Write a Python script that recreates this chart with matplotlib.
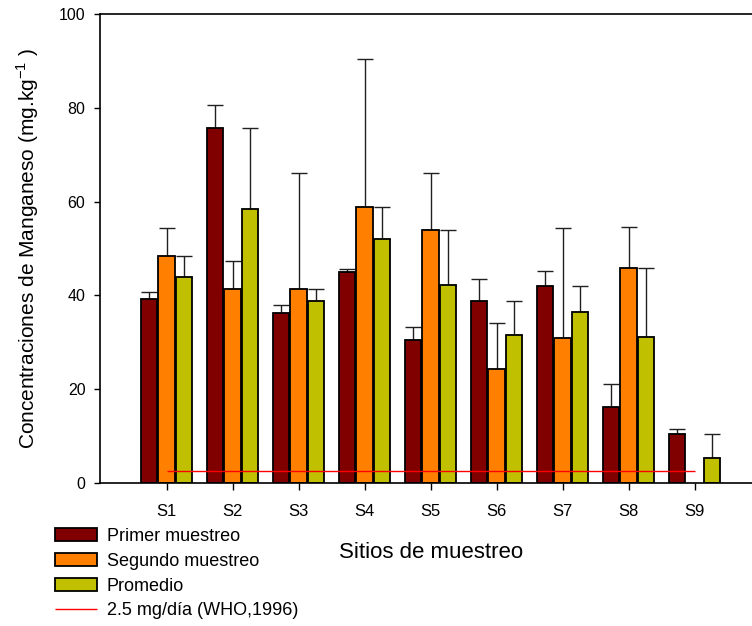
import matplotlib.pyplot as plt
import numpy as np

plt.rcParams['font.family'] = ['Liberation Sans', 'DejaVu Sans']
plt.rcParams['mathtext.fontset'] = 'custom'
plt.rcParams['mathtext.rm'] = 'Liberation Sans'

sitios = ['S1', 'S2', 'S3', 'S4', 'S5', 'S6', 'S7', 'S8', 'S9']
primer = [39.2, 75.7, 36.3, 45.0, 30.5, 38.7, 42.1, 16.3, 10.4]
primer_err = [1.5, 5.0, 1.7, 0.6, 2.8, 4.8, 3.0, 4.9, 1.2]
segundo = [48.4, 41.4, 41.4, 58.9, 54.0, 24.3, 30.9, 45.9, np.nan]
segundo_err = [6.0, 6.0, 24.6, 31.5, 12.2, 9.9, 23.5, 8.6, np.nan]
promedio = [43.9, 58.5, 38.9, 52.0, 42.3, 31.5, 36.5, 31.2, 5.3]
promedio_err = [4.4, 17.2, 2.4, 6.9, 11.7, 7.2, 5.6, 14.7, 5.1]
who_limit = 2.5

x = np.arange(1, len(sitios) + 1)
w = 0.25
off = 0.265

fig = plt.figure(figsize=(7.52, 6.26), dpi=100)
ax = fig.add_axes([100 / 752, 1 - 483 / 626, 1 - 100 / 752, (483 - 14) / 626])

series = [
    (primer, primer_err, '#800000', 'Primer muestreo', -off),
    (segundo, segundo_err, '#ff8000', 'Segundo muestreo', 0),
    (promedio, promedio_err, '#c0c000', 'Promedio', off),
]
for vals, errs, col, lab, dx in series:
    vals = np.array(vals)
    errs = np.array(errs)
    ax.bar(x + dx, vals, width=w, color=col, edgecolor='black', linewidth=1.3,
           label=lab, zorder=2)
    ax.errorbar(x + dx, vals, yerr=[np.zeros_like(errs), errs], fmt='none',
                ecolor='#202020', elinewidth=1, capsize=6, capthick=1, zorder=1)

ax.hlines(who_limit, x[0], x[-1], color='red', linewidth=1,
          label='2.5 mg/día (WHO,1996)', zorder=3)

ax.set_xlim(-0.01, 9.87)
ax.set_ylim(0, 100)
ax.set_xticks(x)
ax.set_xticklabels(sitios, fontsize=12)
ax.set_yticks(np.arange(0, 101, 20))
ax.tick_params(axis='y', labelsize=11.5, length=4, width=1, direction='out', pad=6.5)
ax.tick_params(axis='x', length=5, width=1, direction='out', pad=10)
ax.spines['right'].set_visible(False)
for s in ['left', 'top', 'bottom']:
    ax.spines[s].set_linewidth(1.2)

ax.set_xlabel('Sitios de muestreo', fontsize=16)
ax.xaxis.set_label_coords(0.508, -0.125)
ax.set_ylabel(r'Concentraciones de Manganeso (mg.kg$^{\mathregular{-1}}$ )',
              fontsize=15, labelpad=13)

h, l = ax.get_legend_handles_labels()
order = [1, 2, 3, 0]
fig.legend([h[i] for i in order], [l[i] for i in order],
           loc='upper left', bbox_to_anchor=(55 / 752, 1 - 528 / 626),
           frameon=False, fontsize=13, handlelength=2.33, handleheight=0.72,
           handletextpad=0.55, labelspacing=0.43, borderpad=0, borderaxespad=0)

fig.savefig('out.png', dpi=100)
